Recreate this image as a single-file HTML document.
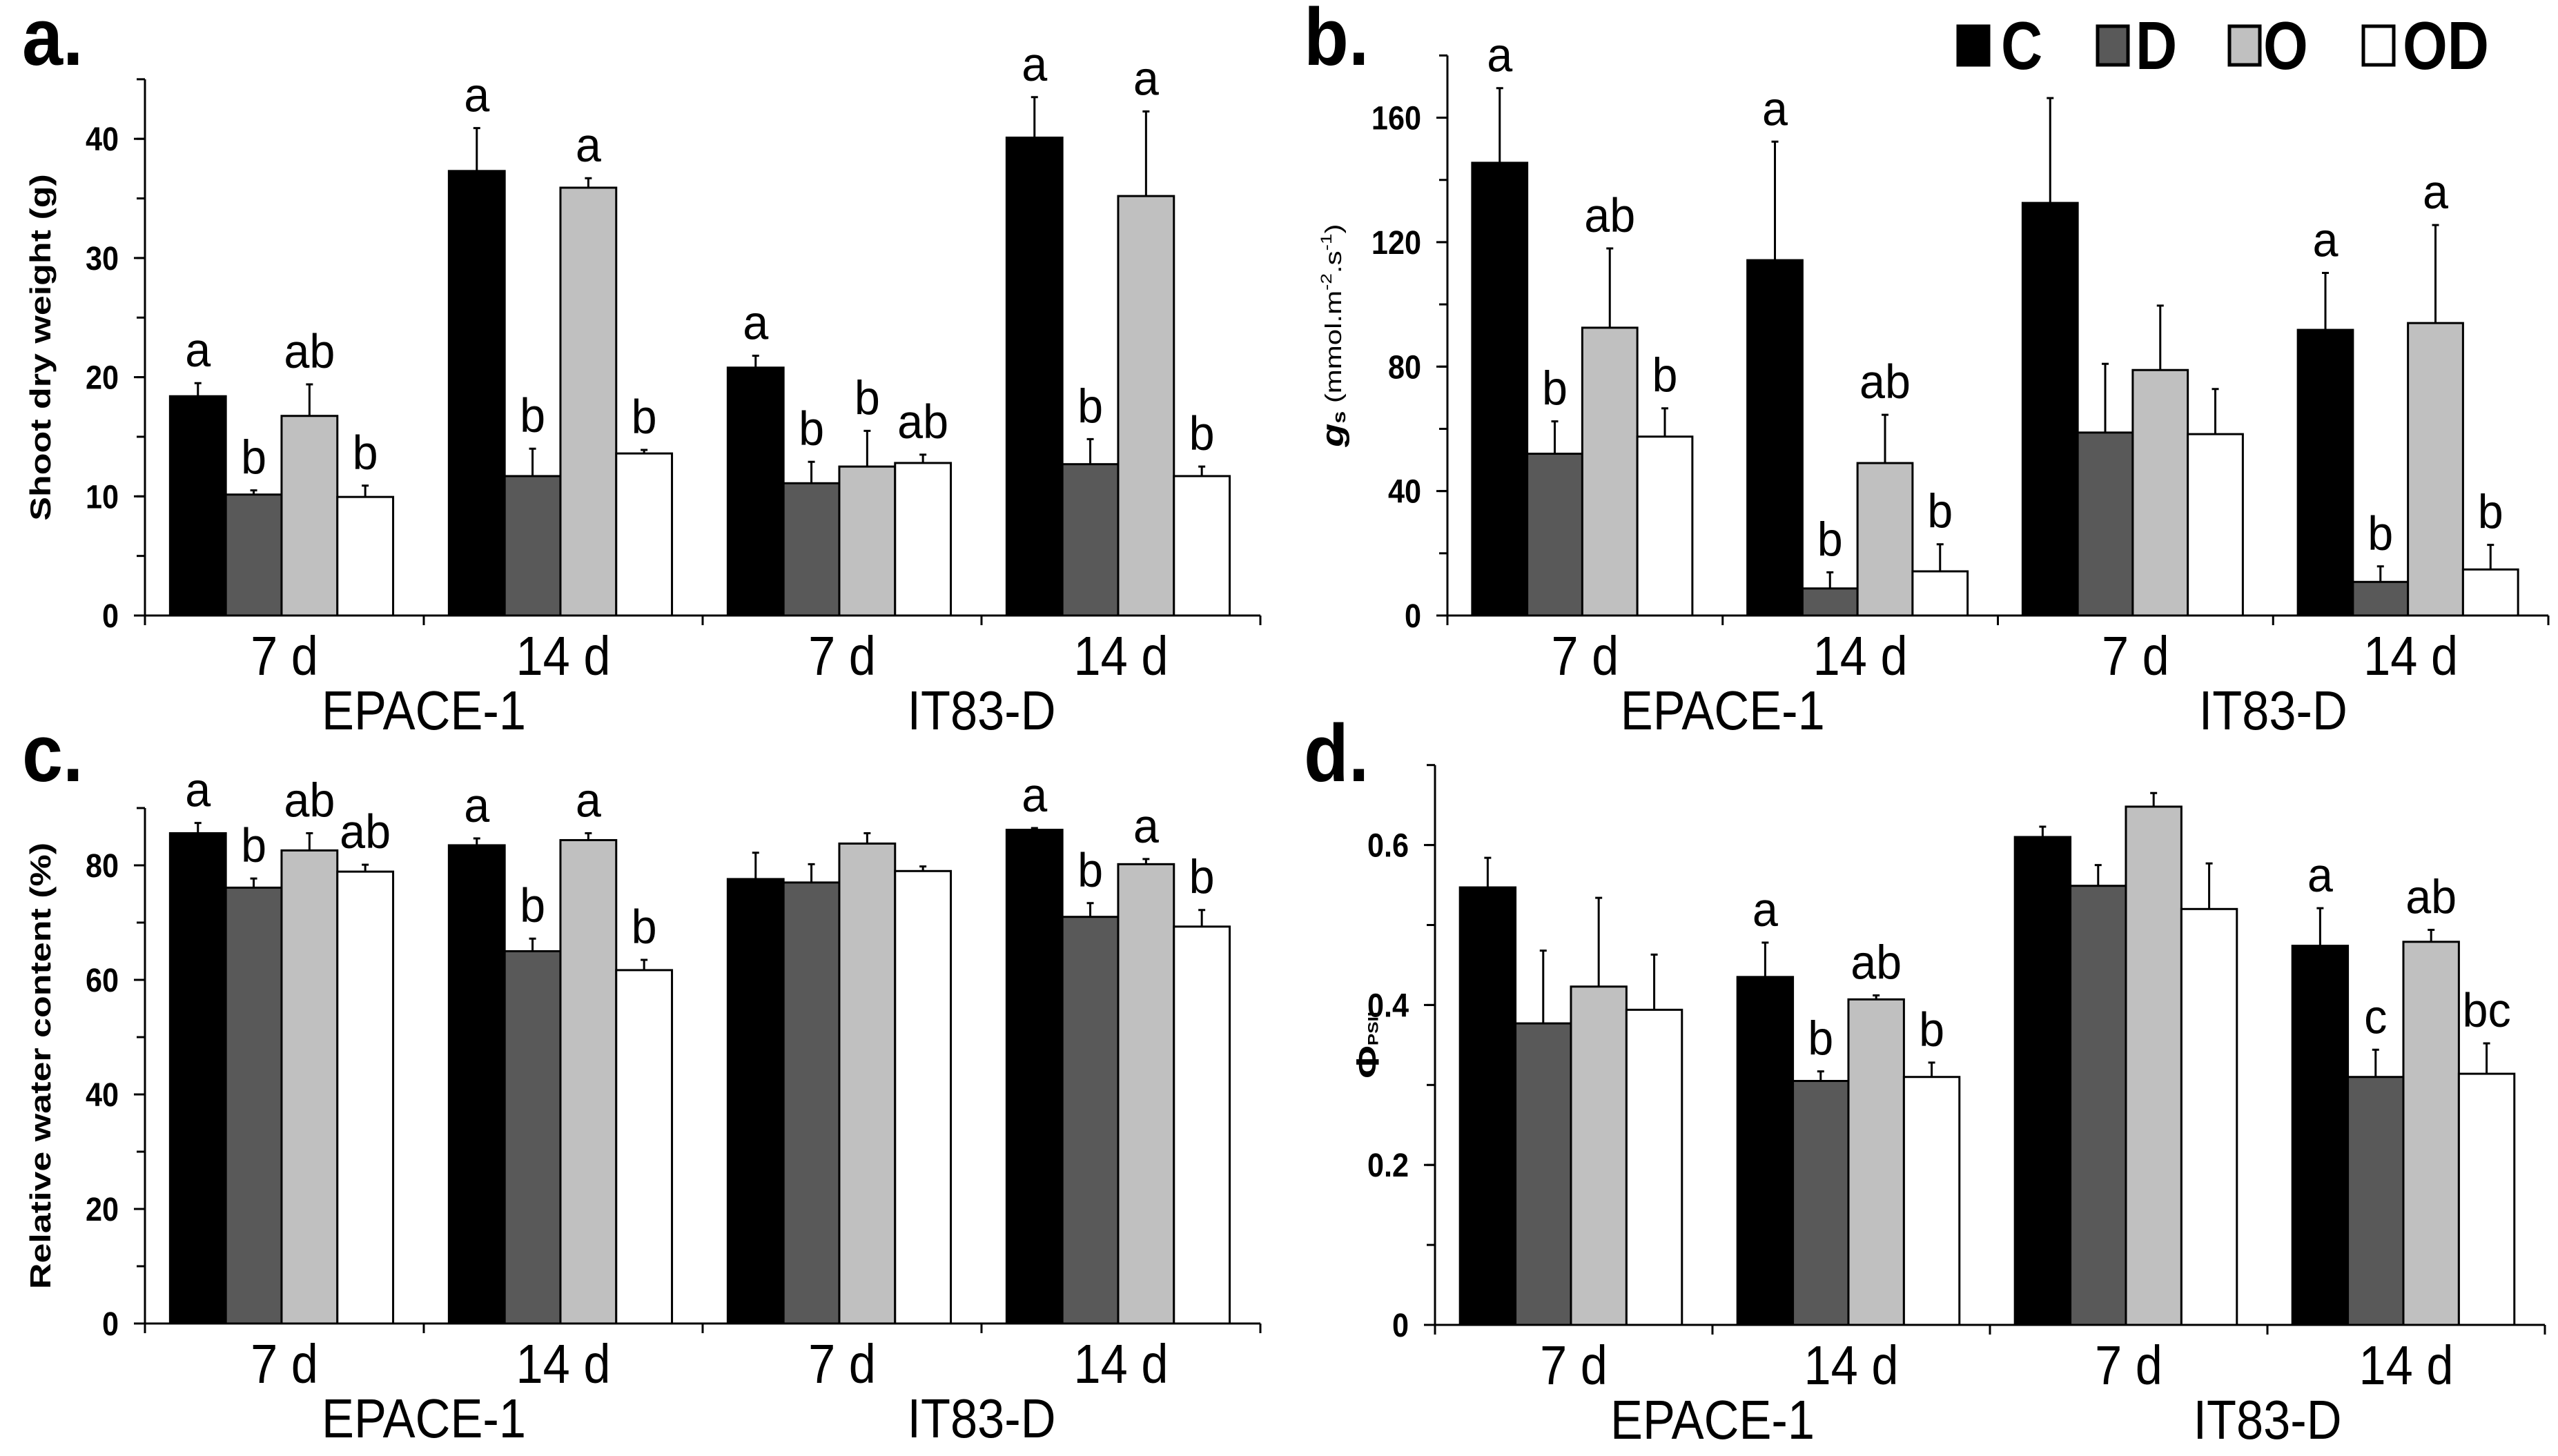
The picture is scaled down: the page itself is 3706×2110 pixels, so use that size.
<!DOCTYPE html>
<html><head><meta charset="utf-8"><style>
html,body{margin:0;padding:0;background:#fff;overflow:hidden;}
svg{display:block;}
text{font-family:"Liberation Sans",sans-serif;fill:#000;}
</style></head><body>
<svg id="fig" width="3706" height="2110" viewBox="0 0 3706 2110" xmlns="http://www.w3.org/2000/svg"></svg>
<script>
// ---- data ----
const categories = ["7 d","14 d","7 d","14 d"];
const genotypes = ["EPACE-1","IT83-D"];
const seriesNames = ["C","D","O","OD"];
const seriesFill = ["#000000","#595959","#c0c0c0","#ffffff"];

// Panel a: shoot dry weight (g), rows = categories, cols = C,D,O,OD
const aVals = [[18.4,10.15,16.75,9.95],[37.3,11.7,35.9,13.6],[20.8,11.1,12.5,12.8],[40.1,12.7,35.2,11.7]];
const aErrTop = [[19.5,10.5,19.4,10.9],[40.9,14.0,36.7,13.9],[21.8,12.9,15.5,13.5],[43.5,14.8,42.3,12.5]];
const aLetters = [["a","b","ab","b"],["a","b","a","b"],["a","b","b","ab"],["a","b","a","b"]];
const aTicks = [0,10,20,30,40];

// Panel b: gs
const bVals = [[145.5,52,92.5,57.5],[114.2,8.7,49,14.2],[132.6,58.8,78.9,58.3],[91.8,10.8,94,14.8]];
const bErrTop = [[169.5,62.4,118,66.6],[152.3,13.9,64.5,22.9],[166.3,80.9,99.6,72.8],[110.1,15.8,125.5,22.7]];
const bLetters = [["a","b","ab","b"],["a","b","ab","b"],["","","",""],["a","b","a","b"]];
const bTicks = [0,40,80,120,160];

// Panel c: RWC
const cVals = [[85.6,76.1,82.6,78.9],[83.5,65,84.4,61.7],[77.6,77,83.8,79],[86.2,71,80.2,69.3]];
const cErrTop = [[87.4,77.7,85.6,80.1],[84.7,67.2,85.6,63.5],[82.2,80.2,85.6,79.8],[86.5,73.4,81.1,72.2]];
const cLetters = [["a","b","ab","ab"],["a","b","a","b"],["","","",""],["a","b","a","b"]];
const cTicks = [0,20,40,60,80];

// Panel d: PhiPSII
const dVals = [[0.547,0.377,0.423,0.394],[0.435,0.305,0.407,0.310],[0.610,0.549,0.648,0.520],[0.474,0.310,0.479,0.314]];
const dErrTop = [[0.584,0.468,0.534,0.463],[0.478,0.317,0.412,0.328],[0.623,0.575,0.665,0.577],[0.521,0.344,0.494,0.352]];
const dLetters = [["","","",""],["a","b","ab","b"],["","","",""],["a","c","ab","bc"]];
const dTicks = ["0","0.2","0.4","0.6"];

const NS="http://www.w3.org/2000/svg";
const svg=document.getElementById('fig');
function mk(tag,attrs,parent){const e=document.createElementNS(NS,tag);for(const k in attrs)e.setAttribute(k,attrs[k]);(parent||svg).appendChild(e);return e;}
function txt(s,x,y,size,anchor,weight,sx,parent){const t=mk('text',{transform:`translate(${x},${y}) scale(${sx},1)`,'font-size':size,'text-anchor':anchor,'font-weight':weight},parent);t.textContent=s;return t;}

function panel(cfg){
  const g=mk('g',{});
  
  
  const gw=(cfg.xr-cfg.x0)/4;
  const y=v=>cfg.y0-v*cfg.k;
  for(let i=0;i<4;i++){
    for(let j=0;j<4;j++){
      const bx=cfg.x0+i*gw+0.09*gw+j*0.2*gw, bw=0.2*gw;
      const v=cfg.vals[i][j], e=cfg.err[i][j];
      const r=mk('rect',{x:bx,y:y(v),width:bw,height:cfg.y0-y(v),fill:seriesFill[j],stroke:'#000','stroke-width':3},g);
      
      
      const cx=bx+bw/2;
      const el=mk('path',{d:`M${cx},${y(v)}V${y(e)}M${cx-5},${y(e)}H${cx+5}`,stroke:'#000','stroke-width':3,fill:'none'},g);
      
      
      const L=cfg.letters[i][j];
      if(L){const t=txt(L,cx,y(e)-24,70,'middle','normal',0.95,g);
        
        }
    }
  }
  const yTop=y(cfg.top);
  const ax=mk('path',{d:`M${cfg.x0},${yTop}V${cfg.y0}H${cfg.xr}`,stroke:'#000','stroke-width':3,fill:'none'},g);
  
  
  for(let v=0;v<=cfg.top+1e-9;v+=cfg.minor){mk('line',{x1:cfg.x0-12,x2:cfg.x0,y1:y(v),y2:y(v),stroke:'#000','stroke-width':3},g);}
  cfg.ticks.forEach(tk=>{const v=parseFloat(tk);mk('line',{x1:cfg.x0-16,x2:cfg.x0,y1:y(v),y2:y(v),stroke:'#000','stroke-width':3},g);});
  cfg.ticks.forEach(tk=>{const v=parseFloat(tk);
    const t=txt(String(tk),cfg.x0-38,y(v)+17,48,'end','bold',0.9,g);
    
    });
  for(let i=0;i<=4;i++){mk('line',{x1:cfg.x0+i*gw,x2:cfg.x0+i*gw,y1:cfg.y0,y2:cfg.y0+14,stroke:'#000','stroke-width':3},g);}
  categories.forEach((c,i)=>{const t=txt(c,cfg.x0+(i+0.5)*gw,cfg.y0+86,80,'middle','normal',0.88,g);
    
    });
  genotypes.forEach((gn,i)=>{const t=txt(gn,cfg.x0+(1+2*i)*gw,cfg.y0+165,80,'middle','normal',0.88,g);
    
    });
  const pl=txt(cfg.label,cfg.lx,cfg.ly,118,'start','bold',0.9,g);
  
  
  const yt=mk('text',{transform:`translate(${cfg.tx},${(yTop+cfg.y0)/2}) rotate(-90) scale(1,0.8)`,'text-anchor':'middle','font-size':cfg.tfs||52,'font-weight':'bold','dominant-baseline':'middle'},g);
  
  
  yt.innerHTML=cfg.title;
}

panel({name:'panel-a-shoot-dry-weight',x0:210,xr:1826,y0:892,k:17.27,top:45,minor:5,ticks:aTicks,vals:aVals,err:aErrTop,letters:aLetters,label:'a.',lx:32,ly:94,tx:62,title:'Shoot dry weight (g)'});
panel({name:'panel-b-stomatal-conductance',x0:2097,xr:3692,y0:892,k:4.509,top:180,minor:20,ticks:bTicks,vals:bVals,err:bErrTop,letters:bLetters,label:'b.',lx:1889,ly:94,tx:1934,tfs:46,title:'<tspan font-style="italic" font-size="56">g</tspan><tspan font-size="32" dy="10">s</tspan><tspan font-weight="normal" font-size="42" dy="-10"> (mmol.m</tspan><tspan font-weight="normal" font-size="28" dy="-14">-2</tspan><tspan font-weight="normal" font-size="42" dy="14">.s</tspan><tspan font-weight="normal" font-size="28" dy="-14">-1</tspan><tspan font-weight="normal" font-size="42" dy="14">)</tspan>'});
panel({name:'panel-c-relative-water-content',x0:210,xr:1826,y0:1918,k:8.3,top:90,minor:10,ticks:cTicks,vals:cVals,err:cErrTop,letters:cLetters,label:'c.',lx:32,ly:1132,tx:62,title:'Relative water content (%)'});
panel({name:'panel-d-phi-psii',x0:2079,xr:3687,y0:1920,k:1159,top:0.7,minor:0.1,ticks:dTicks,vals:dVals,err:dErrTop,letters:dLetters,label:'d.',lx:1889,ly:1132,tx:1985,title:'<tspan font-size="58">Φ</tspan><tspan font-size="26" dy="8">PSII</tspan>'});

// legend
const lg=mk('g',{});


const legX=[2834,3036,3227,3421];
const legTX=[2899,3094,3279,3481];
seriesNames.forEach((s,j)=>{
  const r=mk('rect',{x:legX[j]+3,y:38,width:44,height:56,fill:seriesFill[j],stroke:'#000','stroke-width':5},lg);
  
  
  const t=txt(s,legTX[j],100,98,'start','bold',0.85,lg);
  
  
});
</script>
</body></html>
